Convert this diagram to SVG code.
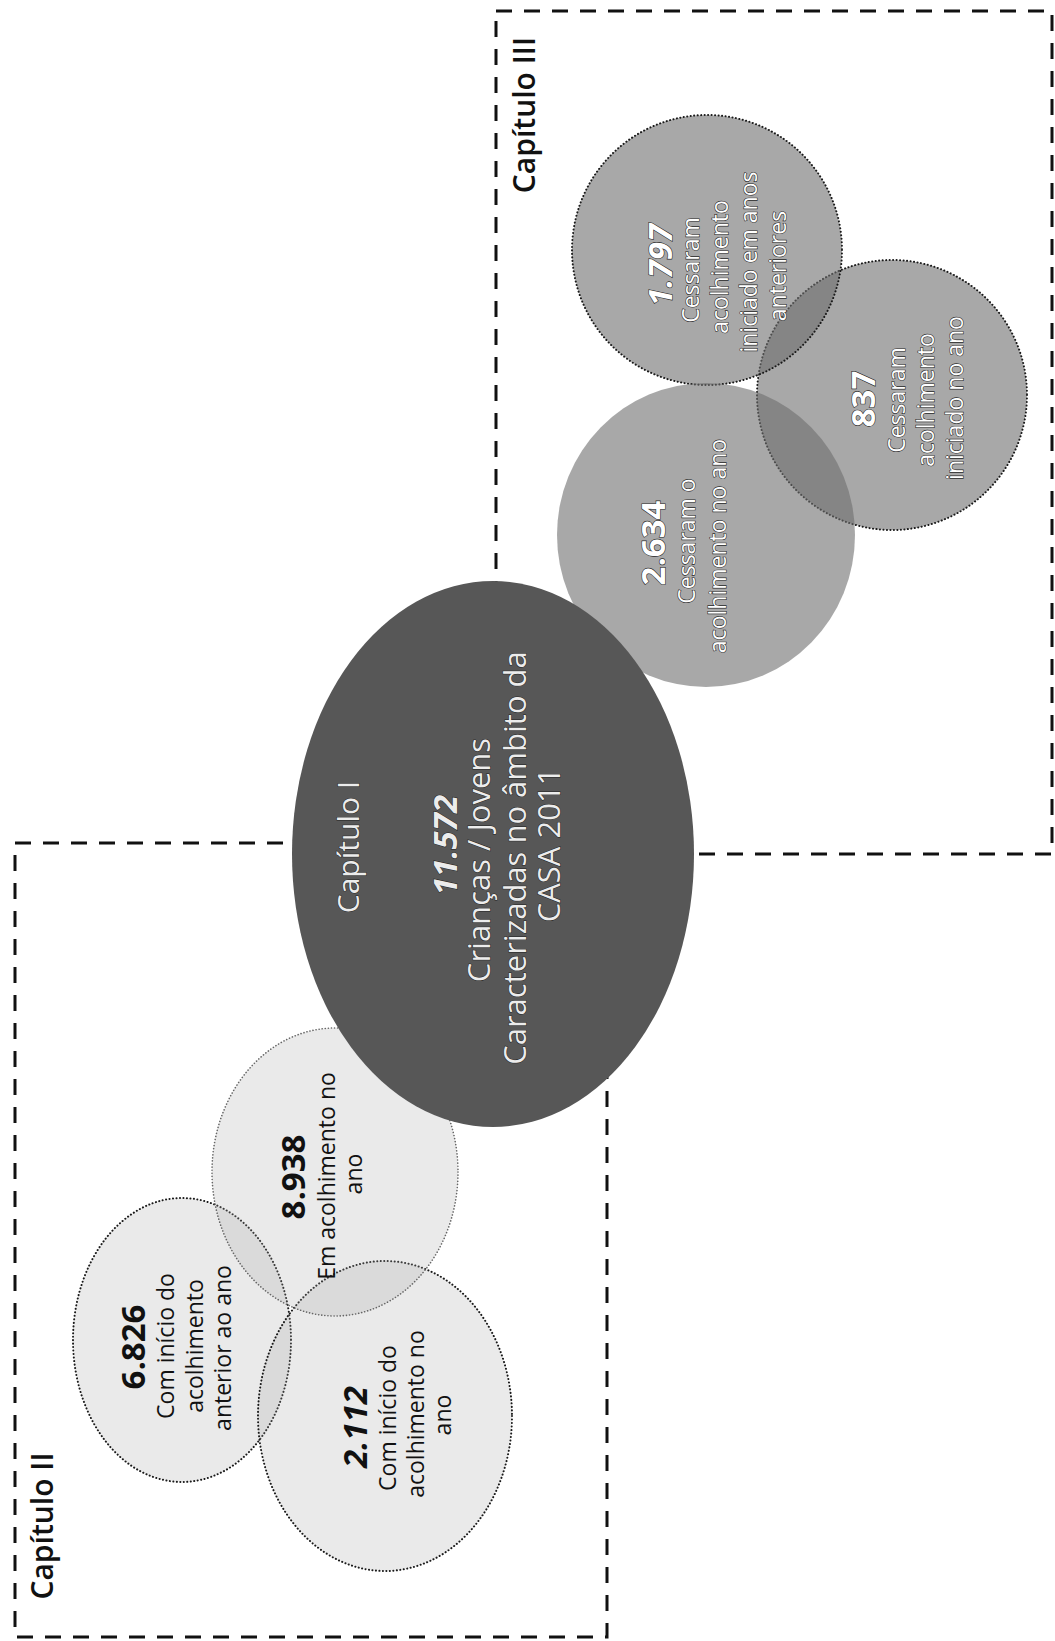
<svg xmlns="http://www.w3.org/2000/svg" width="1055" height="1641" viewBox="0 0 1055 1641">
<defs>
<style>
.box{fill:none;stroke:#111;stroke-width:3;stroke-dasharray:16 12}
.lt{fill:#a8a8a8;fill-opacity:.24}
.dot{stroke:#1a1a1a;stroke-width:2;stroke-dasharray:0.1 3.4;stroke-linecap:round}
.dotl{stroke:#666;stroke-width:1.6;stroke-dasharray:0.1 3;stroke-linecap:round}
.md{fill:#6e6e6e;fill-opacity:.6}
.big{fill:#575757}
.t{font-family:"Open Sans","Liberation Sans",sans-serif;text-anchor:middle}
.lab{font-size:23px}
.num{font-size:33px;font-weight:700}
.it{font-style:italic}
.cap{font-size:30px;font-weight:600;fill:#111}
.bt{font-size:31px}
.dk{fill:#111}
.wt{fill:#fff;stroke:#2a2a2a;stroke-width:1.2;paint-order:stroke}
.wb{fill:#ececec;stroke:#222;stroke-width:1;paint-order:stroke}
</style>
</defs>
<rect width="1055" height="1641" fill="#fff"/>
<g id="frame-cap2">
<rect class="box" x="15" y="843" width="592" height="794"/>
<text class="t cap" x="53" y="1526" transform="rotate(-90 53 1526)">Capítulo II</text>
</g>
<g id="frame-cap3">
<rect class="box" x="496" y="11" width="556" height="843"/>
<text class="t cap" x="535" y="115" transform="rotate(-90 535 115)">Capítulo III</text>
</g>
<g id="connectors"></g>
<g id="n6826">
<ellipse class="lt dot" cx="182" cy="1340" rx="109" ry="142"/>
<text class="t num dk" x="145" y="1347" transform="rotate(-90 145 1347)">6.826</text>
<text class="t lab dk" x="174" y="1346" transform="rotate(-90 174 1346)">Com início do</text>
<text class="t lab dk" x="203" y="1346" transform="rotate(-90 203 1346)">acolhimento</text>
<text class="t lab dk" x="231" y="1348" transform="rotate(-90 231 1348)">anterior ao ano</text>
</g>
<g id="n2112">
<ellipse class="lt dot" cx="385" cy="1416" rx="127" ry="155"/>
<text class="t num it dk" x="367" y="1427" transform="rotate(-90 367 1427)">2.112</text>
<text class="t lab dk" x="396" y="1418" transform="rotate(-90 396 1418)">Com início do</text>
<text class="t lab dk" x="424" y="1414" transform="rotate(-90 424 1414)">acolhimento no</text>
<text class="t lab dk" x="451" y="1415" transform="rotate(-90 451 1415)">ano</text>
</g>
<g id="n8938">
<ellipse class="lt dotl" cx="335" cy="1172" rx="123" ry="144"/>
<text class="t num dk" x="305" y="1177" transform="rotate(-90 305 1177)">8.938</text>
<text class="t lab dk" x="335" y="1176" transform="rotate(-90 335 1176)">Em acolhimento no</text>
<text class="t lab dk" x="362" y="1174" transform="rotate(-90 362 1174)">ano</text>
</g>
<g id="n837">
<circle class="md dot" cx="892" cy="395" r="135"/>
<text class="t num wt" x="875" y="399" transform="rotate(-90 875 399)">837</text>
<text class="t lab wt" x="905" y="400" transform="rotate(-90 905 400)">Cessaram</text>
<text class="t lab wt" x="934" y="400" transform="rotate(-90 934 400)">acolhimento</text>
<text class="t lab wt" x="963" y="398" transform="rotate(-90 963 398)">iniciado no ano</text>
</g>
<g id="n1797">
<circle class="md dot" cx="707" cy="250" r="135"/>
<text class="t num it wt" x="672" y="265" transform="rotate(-90 672 265)">1.797</text>
<text class="t lab wt" x="699" y="270" transform="rotate(-90 699 270)">Cessaram</text>
<text class="t lab wt" x="728" y="267" transform="rotate(-90 728 267)">acolhimento</text>
<text class="t lab wt" x="757" y="262" transform="rotate(-90 757 262)">iniciado em anos</text>
<text class="t lab wt" x="786" y="266" transform="rotate(-90 786 266)">anteriores</text>
</g>
<g id="n2634">
<ellipse class="md" cx="706" cy="535" rx="149" ry="152"/>
<text class="t num wt" x="665" y="543" transform="rotate(-90 665 543)">2.634</text>
<text class="t lab wt" x="695" y="541" transform="rotate(-90 695 541)">Cessaram o</text>
<text class="t lab wt" x="726" y="546" transform="rotate(-90 726 546)">acolhimento no ano</text>
</g>
<g id="n11572">
<ellipse class="big" cx="493" cy="854" rx="201" ry="273"/>
<text class="t wb" style="font-size:30px" x="359" y="847" transform="rotate(-90 359 847)">Capítulo I</text>
<text class="t num it wb" x="457" y="845" transform="rotate(-90 457 845)">11.572</text>
<text class="t bt wb" x="490" y="860" transform="rotate(-90 490 860)">Crianças / Jovens</text>
<text class="t bt wb" x="526" y="858" transform="rotate(-90 526 858)">Caracterizadas no âmbito da</text>
<text class="t bt wb" x="560" y="845" transform="rotate(-90 560 845)">CASA 2011</text>
</g>
</svg>
